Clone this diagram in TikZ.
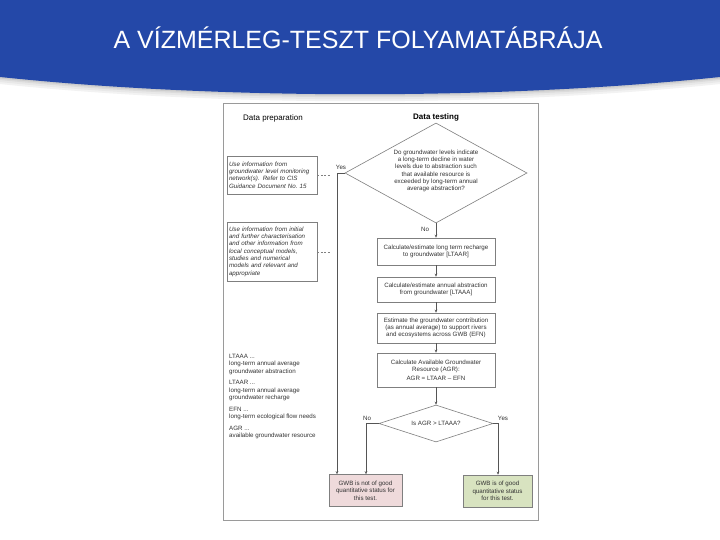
\documentclass[tikz,border=0pt]{standalone}
\usepackage{fontspec}
\setmainfont{Liberation Sans}
\usetikzlibrary{shapes.geometric,arrows.meta,shadows}
\definecolor{banner}{HTML}{2448A8}
\definecolor{framecol}{HTML}{9A9A9A}
\definecolor{boxcol}{HTML}{7F7F7F}
\definecolor{linecol}{HTML}{555555}
\definecolor{txtcol}{HTML}{333333}
\definecolor{redfill}{HTML}{EFDADB}
\definecolor{greenfill}{HTML}{D8E3C0}
\newcommand{\fsz}{\fontsize{6.2}{7.3}\selectfont}
\tikzset{
  x=1pt,y=-1pt,
  flowbox/.style={draw=boxcol,line width=0.6pt,fill=white,align=center,inner sep=1pt,
    font=\fsz,text=txtcol,minimum width=118pt,
    drop shadow={shadow xshift=0.8pt,shadow yshift=-0.8pt,fill=gray!55}},
  notebox/.style={draw=boxcol,line width=0.6pt,fill=white,align=left,inner sep=2pt,
    font=\fsz\itshape,text=txtcol,text width=86pt,minimum width=90pt,
    drop shadow={shadow xshift=0.8pt,shadow yshift=-0.8pt,fill=gray!55}},
  decision/.style={diamond,draw=boxcol,line width=0.6pt,fill=white,inner sep=0pt},
  dtext/.style={align=center,font=\fsz,text=txtcol,inner sep=0pt},
  endbox/.style={draw=boxcol,line width=0.6pt,align=center,inner sep=1pt,
    font=\fsz,text=txtcol,minimum width=72pt,minimum height=32pt,
    drop shadow={shadow xshift=0.8pt,shadow yshift=-0.8pt,fill=gray!55}},
  conn/.style={draw=linecol,line width=0.6pt},
  arr/.style={conn,-{Stealth[length=3pt,width=2.6pt]}},
  dashline/.style={draw=gray,line width=0.5pt,dash pattern=on 2pt off 1.5pt},
  lbl/.style={font=\fsz,text=txtcol,inner sep=0pt},
  heading/.style={font=\fontsize{8}{9}\selectfont,text=black,inner sep=0pt}
}
\begin{document}
\begin{tikzpicture}
\useasboundingbox (0,0) rectangle (720,540);
\fill[white] (0,0) rectangle (720,540);
% banner with soft shadow
\foreach \o/\c in {7/5,5/9,3/14,1.5/20}{
  \fill[black!\c] (0,\o) -- (720,\o) -- (720,77+\o) .. controls (500,100+\o) and (220,100+\o) .. (0,77+\o) -- cycle;
}
\fill[banner] (0,0) -- (720,0) -- (720,77) .. controls (500,100) and (220,100) .. (0,77) -- cycle;
\node[text=white,font=\fontsize{25}{29}\selectfont,inner sep=0pt] (title) at (358,38) {A VÍZMÉRLEG-TESZT FOLYAMATÁBRÁJA};

% frame
\node[draw=framecol,line width=0.8pt,fill=white,minimum width=315pt,minimum height=417pt,inner sep=0pt,
  drop shadow={shadow xshift=1pt,shadow yshift=-1pt,fill=gray!40}] (frame) at (380.5,311.5) {};

\node[heading] (hprep) at (273,118) {Data preparation};
\node[heading,font=\fontsize{8}{9}\selectfont\bfseries] (htest) at (436,117) {Data testing};

% left notes
\node[notebox,minimum height=38pt] (n1) at (272,175) {Use information from\\groundwater level monitoring\\network(s). Refer to CIS\\Guidance Document No.~15};
\node[notebox,minimum height=59pt] (n2) at (272,251.5) {Use information from initial\\and further characterisation\\and other information from\\local conceptual models,\\studies and numerical\\models and relevant and\\appropriate};
\coordinate (n1e) at (330,175);
\coordinate (n2e) at (330,252);
\draw[dashline] (n1.east |- n1e) -- (n1e);
\draw[dashline] (n2.east |- n2e) -- (n2e);

% decision 1
\node[decision,minimum width=182pt,minimum height=100pt] (d1) at (436,173) {};
\node[dtext] (d1t) at (436,171) {Do groundwater levels indicate\\a long-term decline in water\\levels due to abstraction such\\that available resource is\\exceeded by long-term annual\\average abstraction?};

% process boxes
\node[flowbox,minimum height=27pt] (bA) at (436,251.5) {Calculate/estimate long term recharge\\to groundwater [LTAAR]};
\node[flowbox,minimum height=25pt] (bB) at (436,289.5) {Calculate/estimate annual abstraction\\from groundwater [LTAAA]};
\node[flowbox,minimum height=30pt] (bC) at (436,328) {Estimate the groundwater contribution\\(as annual average) to support rivers\\and ecosystems across GWB (EFN)};
\node[flowbox,minimum height=34pt] (bD) at (436,370) {Calculate Available Groundwater\\Resource (AGR):\\[1pt]AGR = LTAAR -- EFN};

% decision 2
\node[decision,minimum width=114pt,minimum height=37pt] (d2) at (436,423.5) {};
\node[dtext] (d2t) at (436,423.5) {Is AGR > LTAAA?};

% end boxes
\node[endbox,fill=redfill,minimum width=73pt] (bad) at (365.5,490.5) {GWB is not of good\\quantitative status for\\this test.};
\node[endbox,fill=greenfill,minimum width=69pt] (good) at (497.5,491) {GWB is of good\\quantitative status\\for this test.};

% connectors
\coordinate (yesx) at (337,0);
\coordinate (nox) at (366,0);
\coordinate (yes2x) at (498,0);
\draw[arr] (d1.west) -- (d1.west -| yesx) -- (bad.north -| yesx);
\draw[arr] (d1.south) -- (bA.north);
\draw[arr] (bA.south) -- (bB.north);
\draw[arr] (bB.south) -- (bC.north);
\draw[arr] (bC.south) -- (bD.north);
\draw[arr] (bD.south) -- (d2.north);
\draw[arr] (d2.west) -- (d2.west -| nox) -- (bad.north -| nox);
\draw[arr] (d2.east) -- (d2.east -| yes2x) -- (good.north -| yes2x);

\node[lbl] (yes1) at (341,167) {Yes};
\node[lbl] (no1) at (425,229) {No};
\node[lbl] (no2) at (367,418) {No};
\node[lbl] (yes2) at (503,418) {Yes};

% legend
\node[lbl,anchor=north west,align=left] (legend) at (229,354) {LTAAA ...\\long-term annual average\\groundwater abstraction\\[4.5pt]LTAAR ...\\long-term annual average\\groundwater recharge\\[4.5pt]EFN ...\\long-term ecological flow needs\\[4.5pt]AGR ...\\available groundwater resource};
\end{tikzpicture}
\end{document}
